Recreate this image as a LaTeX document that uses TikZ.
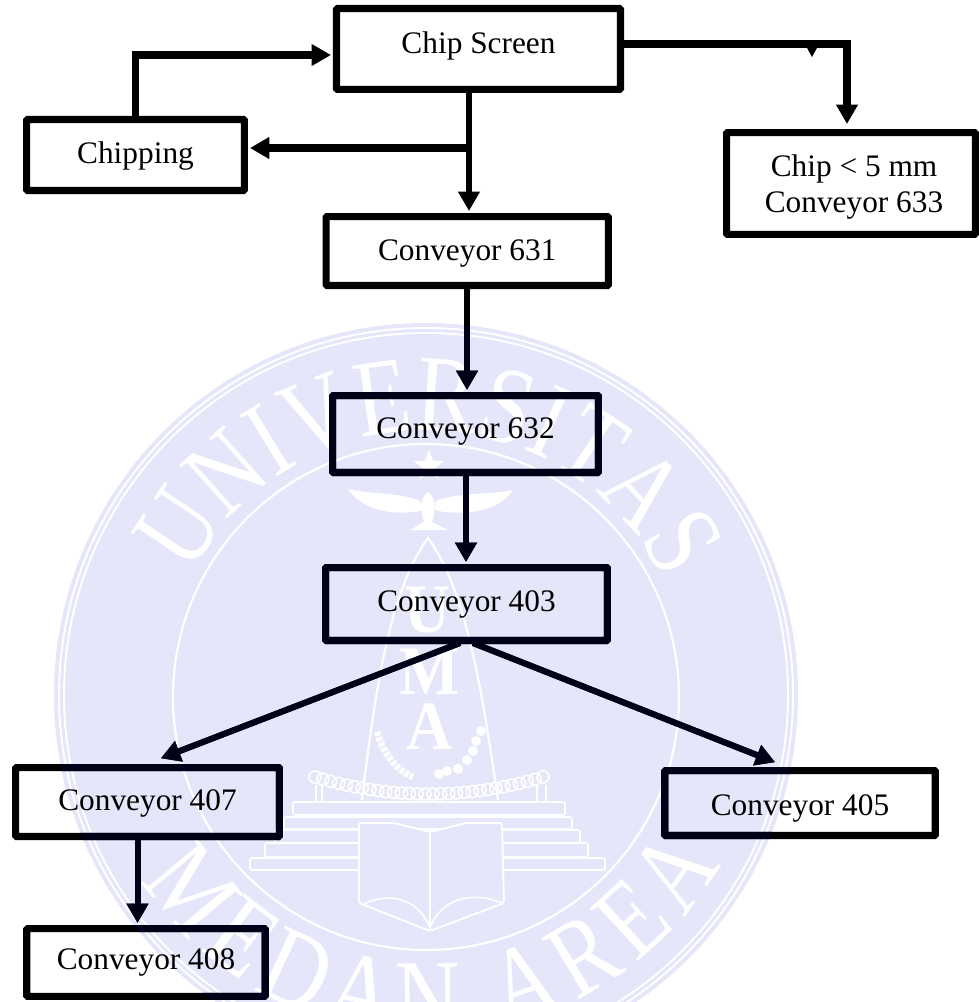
\documentclass[tikz,border=0pt]{standalone}
\usepackage{fontspec}
\setmainfont{Liberation Serif}
\newfontfamily\wmserif[FakeStretch=0.82]{Liberation Serif}
\newfontfamily\wmbold[FakeStretch=0.92]{Liberation Serif}
\usetikzlibrary{arrows.meta,decorations.text,shapes.geometric,calc}
\definecolor{wm}{HTML}{E6E6FA}
\definecolor{navy}{rgb}{0,0,0.1}
\colorlet{ink}{black}
\tikzset{
  boxnode/.style={draw=ink,fill=none,line width=5.4pt,inner sep=0pt,rounded corners=0.8pt,
    font=\fontsize{23.5}{27}\selectfont,text=black},
  arr/.style={draw=ink,line width=4.5pt,-{Triangle[length=14.5pt,width=15.5pt]},shorten >=1.5pt},
  arrthick/.style={arr,line width=5.3pt},
  wline/.style={draw=white,line width=1.4pt},
  wstep/.style={draw=white,fill=wm,line width=1.2pt,rounded corners=1.5pt},
  wlet/.style={text=white,inner sep=0pt,font=\wmbold\bfseries\fontsize{52}{52}\selectfont},
}
\newcommand{\lbl}[2]{\smash{\raisebox{#1}{#2}}}
\newcommand{\flowdiagram}{%
\node[boxnode,minimum width=213pt,minimum height=60.6pt] (screen) at (478.5,49) {\lbl{-3.75pt}{Chip Screen}};
\node[boxnode,minimum width=163.3pt,minimum height=53.1pt] (chipping) at (135.5,155) {\lbl{-6.75pt}{Chipping}};
\node[boxnode,minimum width=186.6pt,minimum height=76.3pt] (c633) at (851,183.5) {\hspace{4.5pt}\lbl{-9pt}{\begin{tabular}{@{}c@{}}Chip < 5 mm\\Conveyor 633\end{tabular}}};
\node[boxnode,minimum width=211.7pt,minimum height=51.6pt] (c631) at (467.25,251) {\lbl{-6.75pt}{Conveyor 631}};
\node[boxnode,minimum width=199.3pt,minimum height=57.6pt] (c632) at (465.5,434) {\lbl{-3pt}{Conveyor 632}};
\node[boxnode,minimum width=211.3pt,minimum height=54.6pt] (c403) at (466.5,604) {\lbl{-5.25pt}{Conveyor 403}};
\node[boxnode,minimum width=197.8pt,minimum height=51.6pt] (c407) at (147.5,802) {\lbl{-6pt}{Conveyor 407}};
\node[boxnode,minimum width=203pt,minimum height=48.6pt] (c405) at (800,803) {\lbl{-9pt}{Conveyor 405}};
\node[boxnode,minimum width=179pt,minimum height=50.8pt] (c408) at (146,962.5) {\lbl{-5.6pt}{Conveyor 408}};
\coordinate (loopin) at (333,55);
\coordinate (outtop) at (624,44);
\coordinate (branch) at (469,148);
\coordinate (screenS) at (469,90);
\coordinate (c631S) at (467,289);
\coordinate (c632S) at (466,476);
\coordinate (c403L) at (460,643);
\coordinate (c403R) at (473,643);
\coordinate (c407S) at (137.5,840);
\coordinate (c633N) at (847,126);
\draw[arrthick] (chipping.north) |- (loopin);
\draw[arrthick] (outtop) -| (c633N);
\draw[arr] (screenS) -- (screenS |- c631.north);
\draw[arrthick] (branch) -- (branch -| chipping.east);
\draw[arr] (c631S) -- (c631S |- c632.north);
\draw[arr] (c632S) -- (c632S |- c403.north);
\draw[arr] (c403L) -- (159,759);
\draw[arr] (c403R) -- (777,763);
\draw[arr] (c407S) -- (c407S |- c408.north);
\fill[ink] (806,46) -- (818,46) -- (812,57) -- cycle;
}
\begin{document}
\begin{tikzpicture}[x=0.75pt,y=-0.75pt]
\useasboundingbox (0,0) rectangle (978,1002);
% ---------- watermark ----------
\begin{scope}
\clip (0,0) rectangle (978,1002);
\fill[wm] (426,695) circle[radius=372];
\draw[wline] (426,695) circle[radius=367];
\draw[wline] (426,695) circle[radius=362];
\draw[wline,line width=1.6pt] (426,697) circle[radius=253];
\begin{scope}[shift={(426,695)},x=0.75pt,y=0.75pt]
\path[decorate,decoration={text along path,text align={fit to path},
   text={|\wmserif\fontsize{82}{82}\selectfont\color{white}|UNIVERSITAS}}]
   (153:264) arc[start angle=153,end angle=26,radius=264];
\path[decorate,decoration={text along path,text align={fit to path},
   text={|\wmserif\fontsize{82}{82}\selectfont\color{white}|MEDAN AREA}}]
   (213:340) arc[start angle=213,end angle=330,radius=340];
\end{scope}
% star and bird
\node[star,star points=5,star point ratio=2.4,fill=white,inner sep=0pt,minimum size=24pt] (wstar) at (429,466) {};
\fill[white] (348,489) .. controls (375,495) and (395,492) .. (418,500) .. controls (425,505) and (424,510) .. (420,511) .. controls (392,516) and (362,510) .. cycle;
\fill[white] (513,490) .. controls (490,495) and (465,492) .. (438,500) .. controls (432,505) and (434,510) .. (438,511) .. controls (470,516) and (500,510) .. cycle;
\fill[white] (428,492) .. controls (438,498) and (434,515) .. (432,522) -- (448,530) -- (410,530) -- (424,522) .. controls (422,515) and (418,498) .. cycle;
% pyramid
\draw[wline,line width=1.6pt] (362,800) .. controls (375,690) and (390,590) .. (428,538) .. controls (466,590) and (482,690) .. (498,800);
\node[wlet] (wu) at (428,610) {U};
\node[wlet] (wm1) at (430,672) {M};
\node[wlet] (wa) at (430,727) {A};
% laurel and beads
\draw[white,line width=5pt,dash pattern=on 3pt off 1.2pt] (377,732) .. controls (382,750) and (395,770) .. (413,777);
\foreach \p in {(481,731),(476,741),(473,751),(467,760),(458,769),(447,771),(439,774)}
  \fill[white] \p circle[radius=5];
% chain
\foreach \i in {0,...,29}{
  \pgfmathsetmacro{\xx}{315+\i*228/29}
  \pgfmathsetmacro{\yy}{777+17*(1-((\xx-429)/114)^2)}
  \draw[white,line width=1.2pt] (\xx,\yy) circle[radius=6];
}
\draw[wline,line width=1.2pt] (316,785) -- (316,802) (322,785) -- (322,802) (537,785) -- (537,802) (546,785) -- (546,802);
% steps
\draw[wstep] (250,858) rectangle (605,870);
\draw[wstep] (265,843) rectangle (588,857);
\draw[wstep] (275,830) rectangle (580,843);
\draw[wstep] (284,817) rectangle (572,829);
\draw[wstep] (293,802) rectangle (565,815);
% book
\draw[wstep,line width=1.4pt] (359,823) -- (394,823) -- (430,832) -- (466,823) -- (502,823) -- (504,903) -- (430,931) -- (359,903) -- cycle;
\draw[wline] (430,832) -- (430,931);
\draw[wline,line width=1.2pt] (362,905) .. controls (390,890) and (420,900) .. (430,928) .. controls (440,900) and (470,890) .. (502,903);
\end{scope}
% ---------- flow diagram in black; lines again in navy where the watermark lies over them ----------
\flowdiagram
\begin{scope}
\clip (426,695) circle[radius=372];
\colorlet{ink}{navy}
\renewcommand{\lbl}[2]{}
\renewcommand{\arraystretch}{1}
\flowdiagram
\end{scope}
\end{tikzpicture}
\end{document}
